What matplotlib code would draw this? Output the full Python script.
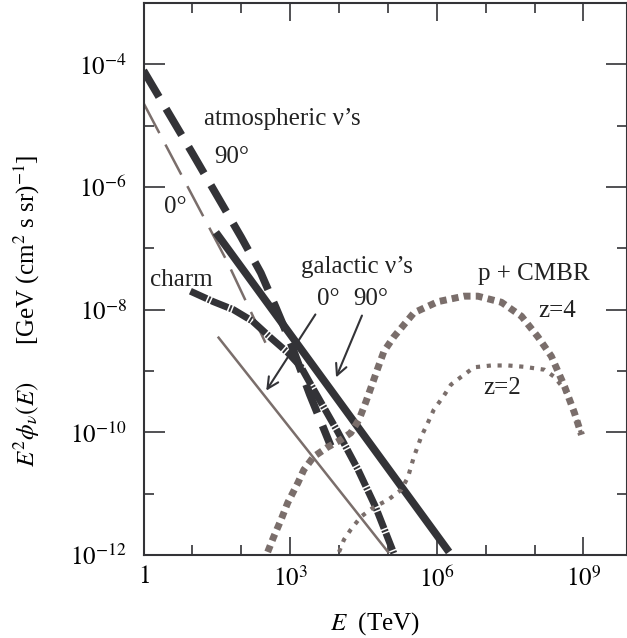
import numpy as np
import matplotlib
matplotlib.use("Agg")
import matplotlib.pyplot as plt
from matplotlib.ticker import FixedLocator, FixedFormatter

plt.rcParams['font.family'] = 'serif'
plt.rcParams['font.serif'] = ['Liberation Serif', 'DejaVu Serif']
plt.rcParams['mathtext.fontset'] = 'stix'

dark = '#333337'
brown = '#7a6e6b'

# atmospheric neutrinos, 90 deg (thick dashed) and 0 deg (thin dashed)
atm90_E = [1, 10, 100, 251, 501, 1000, 2512, 6761]
atm90_flux = [7.9e-5, 3.55e-6, 1.51e-7, 3.98e-8, 1.12e-8, 3.02e-9, 4.17e-10, 6.0e-11]
atm0_E = [1, 52.5, 363]
atm0_flux = [2.34e-5, 5.89e-8, 2.24e-9]

# galactic neutrinos
gal90_E = [30.2, 1.78e6]
gal90_flux = [1.82e-7, 1.12e-12]
gal0_E = [33.1, 1.05e5]
gal0_flux = [3.63e-9, 1.07e-12]

# charm
charm_E = [9.1, 26.9, 69, 170, 398, 891, 1660, 3020, 9550, 24500, 56200, 131800]
charm_flux = [2.0e-8, 1.35e-8, 1.0e-8, 6.5e-9, 3.5e-9, 2.0e-9, 1.17e-9, 5.0e-10,
              1.0e-10, 2.45e-11, 6.0e-12, 1.07e-12]

# p + CMBR, z=4 and z=2
z4_E = [347, 457, 646, 891, 1445, 1905, 3020, 5890, 1.10e4, 1.74e4, 2.57e4, 3.55e4,
        4.9e4, 6.3e4, 8.3e4, 1.32e5, 3.4e5, 1.05e6, 3.6e6, 6.9e6, 2.1e7, 5.4e7,
        1.17e8, 2.2e8, 4.1e8, 6.5e8, 9.1e8]
z4_flux = [1.12e-12, 1.95e-12, 3.7e-12, 7.1e-12, 1.51e-11, 2.45e-11, 4.0e-11, 5.75e-11,
           7.6e-11, 9.8e-11, 1.62e-10, 3.16e-10, 6.5e-10, 1.15e-9, 2.1e-9, 3.6e-9,
           8.9e-9, 1.35e-8, 1.66e-8, 1.66e-8, 1.32e-8, 7.8e-9, 3.6e-9, 1.74e-9,
           5.6e-10, 2.1e-10, 9.1e-11]
z2_E = [1.0e4, 1.26e4, 1.74e4, 2.8e4, 5.1e4, 1.0e5, 1.86e5, 2.57e5, 3.4e5, 4.8e5,
        6.6e5, 8.7e5, 1.35e6, 1.95e6, 3.2e6, 5.8e6, 1.29e7, 2.9e7, 6.2e7, 1.58e8,
        2.5e8, 4.1e8, 6.5e8, 9.1e8]
z2_flux = [1.12e-12, 1.78e-12, 2.6e-12, 4.2e-12, 6.0e-12, 7.9e-12, 1.15e-11, 1.86e-11,
           4.0e-11, 8.5e-11, 1.45e-10, 2.35e-10, 3.8e-10, 6.0e-10, 8.1e-10, 1.15e-9,
           1.23e-9, 1.23e-9, 1.17e-9, 1.05e-9, 8.1e-10, 5.0e-10, 2.1e-10, 9.1e-11]

xticks = [1, 1e3, 1e6, 1e9]
xticklabels = ['$1$', '$10^3$', '$10^6$', '$10^9$']
yticks = [1e-12, 1e-10, 1e-8, 1e-6, 1e-4]
yticklabels = ['$10^{-12}$', '$10^{-10}$', '$10^{-8}$', '$10^{-6}$', '$10^{-4}$']

fig = plt.figure(figsize=(6.27, 6.38), dpi=100)
ax = fig.add_axes([143.5 / 627, 1 - 555 / 638, 483 / 627, 552 / 638])

ax.plot(atm0_E, atm0_flux, color=brown, lw=1.8, ls=(0, (13.6, 5.2)))
ax.plot(gal0_E, gal0_flux, color=brown, lw=1.8, solid_capstyle='butt')
ax.plot(gal90_E, gal90_flux, color=dark, lw=5.5, solid_capstyle='butt')
ax.plot(atm90_E, atm90_flux, color=dark, lw=5.5, ls=(0, (4.0, 1.8)))
ax.plot(charm_E, charm_flux, color=dark, lw=5, ls=(0, (2.6, 0.22, 0.28, 0.22)))
ax.plot(z4_E, z4_flux, color=brown, lw=5, ls=(0, (1.0, 0.75)))
ax.plot(z2_E, z2_flux, color=brown, lw=3, ls=(0, (1.0, 1.6)))

ax.set_xscale('log')
ax.set_yscale('log')
ax.set_xlim(1, 10 ** 9.88)
ax.set_ylim(1e-12, 1e-3)

ax.xaxis.set_major_locator(FixedLocator(xticks))
ax.xaxis.set_major_formatter(FixedFormatter(xticklabels))
ax.xaxis.set_minor_locator(FixedLocator([10.0 ** k for k in range(0, 10) if k % 3]))
ax.xaxis.set_minor_formatter(FixedFormatter([]))
ax.yaxis.set_major_locator(FixedLocator(yticks))
ax.yaxis.set_major_formatter(FixedFormatter(yticklabels))
ax.yaxis.set_minor_locator(FixedLocator([10.0 ** k for k in range(-11, -2, 2)]))
ax.yaxis.set_minor_formatter(FixedFormatter([]))

ax.tick_params(which='both', direction='in', top=True, right=True, color=dark, width=1.2)
ax.tick_params(which='major', length=13, labelsize=18, pad=8)
ax.tick_params(axis='y', which='major', length=15, pad=12)
ax.tick_params(which='minor', length=7)
for s in ax.spines.values():
    s.set_linewidth(1.5)
    s.set_color(dark)

tk = dict(transform=ax.transAxes, fontsize=18, ha='center', va='baseline', color='#222222')
ax.text(0.2867, 0.779, 'atmospheric ν’s', **tk)
ax.text(0.183, 0.710, '90°', **tk)
ax.text(0.065, 0.620, '0°', **tk)
ax.text(0.078, 0.487, 'charm', **tk)
ax.text(0.442, 0.511, 'galactic ν’s', **tk)
ax.text(0.382, 0.453, '0°', **tk)
ax.text(0.471, 0.453, '90°', **tk)
ax.text(0.808, 0.498, 'p + CMBR', **tk)
ax.text(0.856, 0.431, 'z=4', **tk)
ax.text(0.742, 0.292, 'z=2', **tk)

ap = dict(arrowstyle='->', color=dark, lw=1.5, mutation_scale=20)
ax.annotate('', xy=(0.251, 0.2935), xytext=(0.359, 0.440), xycoords='axes fraction',
            textcoords='axes fraction', arrowprops=ap)
ax.annotate('', xy=(0.3965, 0.317), xytext=(0.4545, 0.4384), xycoords='axes fraction',
            textcoords='axes fraction', arrowprops=ap)

fig.text(375 / 627, 8 / 638, '$E$  (TeV)', fontsize=18, ha='center', va='baseline')
fig.text(27 / 627, 1 - 311 / 638, r'$E^2\phi_\nu(E)$      [GeV (cm$^2$ s sr)$^{-1}$]',
         fontsize=18, rotation=90, ha='center', va='center')

fig.savefig('out.png', dpi=100)
